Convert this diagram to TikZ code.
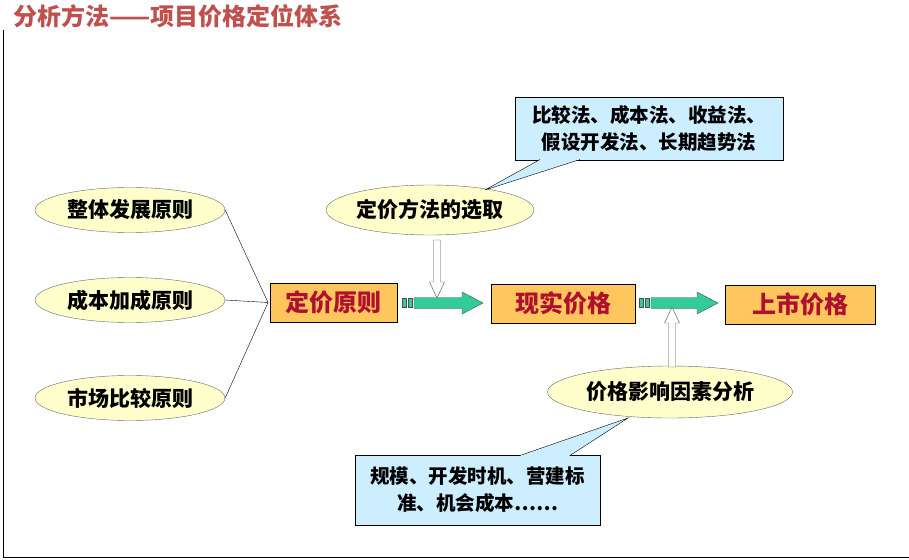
\documentclass[tikz,border=0pt]{standalone}
\usepackage{fontspec}
\setmainfont{Noto Sans CJK SC}
\usetikzlibrary{shapes.geometric}
\definecolor{ell}{HTML}{FFFFCC}
\definecolor{box}{HTML}{FFC65E}
\definecolor{dred}{HTML}{B01030}
\definecolor{ttl}{HTML}{C0504D}
\definecolor{cal}{HTML}{CCEEFF}
\definecolor{grn}{HTML}{33CC99}
\tikzset{
 ell/.style={ellipse,draw=gray!80!black,fill=ell,minimum width=190pt,minimum height=45pt,inner sep=0pt,font=\fontsize{21}{24}\selectfont\bfseries},
 bx/.style={draw=black,fill=box,minimum height=39pt,font=\fontsize{24}{27}\selectfont\bfseries,text=dred},
 cal/.style={draw=black,fill=cal,align=center,font=\fontsize{19.5}{27}\selectfont\bfseries},
 sq/.style={draw=black!70,fill=grn,minimum width=4pt,minimum height=9pt,inner sep=0pt},
 garr/.style={draw=black!70,fill=grn},
 harr/.style={draw=black!70,fill=white},
}
\begin{document}
\begin{tikzpicture}[x=1pt,y=-1pt]
\useasboundingbox (0,0) rectangle (909,559);
\draw[line width=1pt] (3,30) -- (3,557) -- (909,557);
\node[anchor=west,text=ttl,font=\fontsize{24}{27}\selectfont\bfseries] (t) at (10,16) {分析方法——项目价格定位体系};
\node[ell] (e1) at (130,210) {整体发展原则};
\node[ell] (e2) at (130,300) {成本加成原则};
\node[ell] (e3) at (130,398) {市场比较原则};
\node[bx,minimum width=127pt] (b1) at (333.5,302.5) {定价原则};
\node[bx,minimum width=144pt] (b2) at (563,303.5) {现实价格};
\node[bx,minimum width=150pt] (b3) at (800,304.5) {上市价格};
\coordinate (j) at (268,302.5);
\draw (e1.east) -- (j) -- (e3.east);
\draw (e2.east) -- (j);
\node[ell,minimum width=200pt,minimum height=50pt] (m) at (430,210) {定价方法的选取};
\node[ell,minimum width=245pt,minimum height=52pt] (f) at (670,392) {价格影响因素分析};
\node[sq] (s1) at (404,303) {};
\node[sq] (s2) at (410,303) {};
\coordinate (g1) at (414,303);
\draw[garr] (g1) ++(0,-5.5) -- ++(48,0) -- ++(0,-5.5) -- ++(21,11) -- ++(-21,11) -- ++(0,-5.5) -- ++(-48,0) -- cycle;
\node[sq] (s3) at (641,303) {};
\node[sq] (s4) at (647,303) {};
\coordinate (g2) at (651,303);
\draw[garr] (g2) ++(0,-5.5) -- ++(46,0) -- ++(0,-5.5) -- ++(21,11) -- ++(-21,11) -- ++(0,-5.5) -- ++(-46,0) -- cycle;
\coordinate (h1) at (437,240);
\draw[harr] (h1) ++(-3.5,0) -- ++(0,42) -- ++(-4,0) -- ++(7.5,16) -- ++(7.5,-16) -- ++(-4,0) -- ++(0,-42) -- cycle;
\coordinate (h2) at (672,367);
\draw[harr] (h2) ++(-3.5,0) -- ++(0,-44) -- ++(-4,0) -- ++(7.5,-16) -- ++(7.5,16) -- ++(-4,0) -- ++(0,44) -- cycle;
\node[cal,minimum width=268pt,minimum height=63pt] (c1) at (649,128.5) {比较法、成本法、收益法、\\假设开发法、长期趋势法};
\node[cal,minimum width=245pt,minimum height=70pt] (c2) at (477.5,490) {规模、开发时机、营建标\\准、机会成本……};
\coordinate (p1) at (485,190);
\coordinate (p2) at (628,418);
\filldraw[fill=cal,draw=black] (540,159.5) -- (p1) -- (580,159.5);
\draw[draw=cal,line width=1.5pt] (541,159.5) -- (579,159.5);
\filldraw[fill=cal,draw=black] (520,455.5) -- (p2) -- (570,455.5);
\draw[draw=cal,line width=1.5pt] (521,455.5) -- (569,455.5);
\end{tikzpicture}
\end{document}
